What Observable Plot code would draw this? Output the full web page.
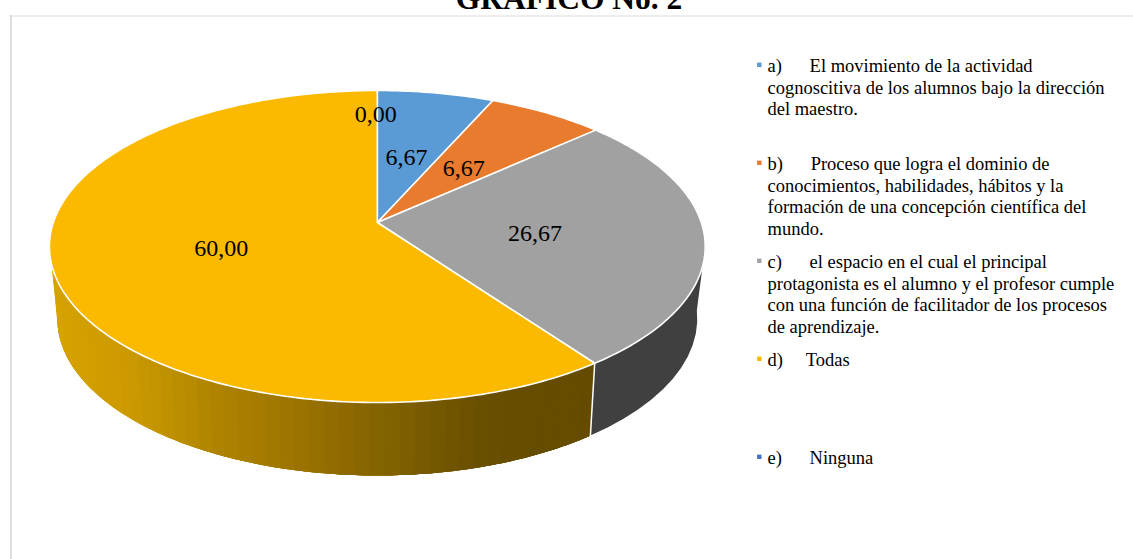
<!DOCTYPE html>
<html><head><meta charset="utf-8">
<script src="https://cdn.jsdelivr.net/npm/d3@7"></script>
<script src="https://cdn.jsdelivr.net/npm/@observablehq/plot@0.6"></script>
<style>html,body{margin:0;padding:0;background:#fff;overflow:hidden}svg{display:block}</style>
</head><body><div id="chart"></div>
<script>
const categories = ["a","b","c","d","e"];
const values = [6.67, 6.67, 26.67, 60.00, 0.00];
const valueLabels = ["6,67","6,67","26,67","60,00","0,00"];
const colors = ["#5B9BD5","#E97B2F","#A1A1A1","#FBBA00","#4472C4"];
const legendTexts = [
  "a)      El movimiento de la actividad\ncognoscitiva de los alumnos bajo la dirección\ndel maestro.",
  "b)      Proceso que logra el dominio de\nconocimientos, habilidades, hábitos y la\nformación de una concepción científica del\nmundo.",
  "c)      el espacio en el cual el principal\nprotagonista es el alumno y el profesor cumple\ncon una función de facilitador de los procesos\nde aprendizaje.",
  "d)     Todas",
  "e)      Ninguna"
];
const title = "GRÁFICO No. 2";

// layout of the perspective disc
const W = 1133, H = 559;
const cx = 376.8, topCy = 246, rx = 328, ry = 156, apex = 24, persp = apex / ry, ax = 324;
const lowRx = 320, lowCy = 318, lowRy = 157;
const D = Math.PI / 180;

// map polar position on the disc (theta from 12 o'clock, clockwise; r 0..1) to the picture
function disc(theta, r = 1) {
  const u = r * Math.sin(theta), v = r * Math.cos(theta), k = 1 + persp * v;
  return {x: cx + ax * u / k, y: topCy - (ry * v + apex) / k};
}
const total = d3.sum(values);
let acc = 0;
const slices = values.map((v, i) => {
  const a0 = acc / total * 2 * Math.PI; acc += v;
  return {i, a0, a1: acc / total * 2 * Math.PI, cat: categories[i], color: colors[i], label: valueLabels[i], value: v};
});

// top faces
const facePts = [];
for (const s of slices) {
  if (s.value === 0) continue;
  facePts.push({...disc(0, 0), cat: s.cat, color: s.color});
  const n = Math.max(2, Math.ceil((s.a1 - s.a0) / (1 * D)));
  for (let j = 0; j <= n; j++) facePts.push({...disc(s.a0 + (s.a1 - s.a0) * j / n), cat: s.cat, color: s.color});
  facePts.push({...disc(0, 0), cat: s.cat, color: s.color});
}

// side wall: near-vertical bands between the rim and the lower ellipse
const topY = x => topCy + ry * Math.sqrt(Math.max(0, 1 - ((x - cx) / rx) ** 2));
const lowPoint = p => ({x: cx - lowRx * Math.cos(p), y: lowCy + lowRy * Math.sin(p)});
const seamTop = disc(slices[2].a1);
const seamLowX = seamTop.x - 4.3;
const seamPhi = Math.acos((cx - seamLowX) / lowRx);
const startPhi = -3 * D, endPhi = 183 * D;
const rimLeft = 51.5, rimRight = 702;
const goldRamp = d3.scaleLinear()
  .domain([55, 130, 215, 300, 370, 400, 470, 500, 600])
  .range(["#d6a300", "#cc9a00", "#b08400", "#9a7200", "#866500", "#7f6000", "#6a5000", "#664d00", "#644b00"]);
const sidePts = [];
// a band runs from phi p0 to phi p1, following both edges; later bands paint over earlier ones
function band(id, color, p0, p1, rimAt) {
  const steps = d3.range(0, 13).map(j => p0 + (p1 - p0) * j / 12);
  const low = steps.map(lowPoint);
  const rim = low.map(l => { const x = rimAt(l.x); return {x, y: topY(x)}; });
  for (const p of [...rim, ...low.reverse(), rim[0]]) sidePts.push({...p, id, color});
}
const lowLeft = lowPoint(startPhi).x, lowRight = lowPoint(endPhi).x;
const rimGold = d3.scaleLinear().domain([lowLeft, seamLowX]).range([rimLeft, seamTop.x]);
const rimGray = d3.scaleLinear().domain([seamLowX, lowRight]).range([seamTop.x, rimRight]);
const nGold = 50;
for (let k = 0; k < nGold; k++) {
  const p0 = startPhi + (seamPhi - startPhi) * k / nGold;
  const p1 = startPhi + (seamPhi - startPhi) * Math.min(1, (k + 4) / nGold);
  const pm = startPhi + (seamPhi - startPhi) * (k + .5) / nGold;
  band("g" + String(k).padStart(3, "0"), goldRamp(lowPoint(pm).x), p0, p1, rimGold);
}
band("zgray", "#404040", seamPhi, endPhi, rimGray);
const seamLine = [{x: seamTop.x, y: topY(seamTop.x)}, lowPoint(seamPhi)];

// value labels: mid-slice at half radius; the empty slice's label sits further out
const valueMarks = slices.map(s => {
  const p = disc((s.a0 + s.a1) / 2, s.value === 0 ? 0.82 : 0.49);
  return {...p, label: s.label};
});

// legend rows
const legendTop = 64.3, legendStep = 98;
const legendRows = legendTexts.map((t, i) => ({t, color: colors[i], y: legendTop + legendStep * i}));

const font = "'Liberation Serif','Times New Roman',serif";
const plot = Plot.plot({
  width: W, height: H, margin: 0,
  x: {domain: [0, W], range: [0, W], axis: null},
  y: {domain: [0, H], range: [0, H], axis: null},
  style: {background: "#fff", fontFamily: font},
  marks: [
    Plot.ruleX([10.5], {y1: 15, y2: H, stroke: "#e0e0e0", strokeWidth: 2}),
    Plot.ruleY([15.5], {x1: 9.5, x2: W, stroke: "#dcdcdc", strokeWidth: 1.2}),
    Plot.line(sidePts, {x: "x", y: "y", z: "id", fill: "color", stroke: "none"}),
    Plot.line(seamLine, {x: "x", y: "y", stroke: "#fff", strokeWidth: 1.5}),
    Plot.line(facePts, {x: "x", y: "y", z: "cat", fill: "color", stroke: "#fff", strokeWidth: 1.6, strokeLinejoin: "round"}),
    Plot.text(valueMarks, {x: "x", y: "y", dx: -1.5, dy: 2.5, text: "label", fontSize: 24, fill: "#000", textAnchor: "middle", lineAnchor: "middle"}),
    Plot.text([title], {x: 568.5, y: 8, text: d => d, fontSize: 31.5, fontWeight: "bold", fill: "#000", textAnchor: "middle", lineAnchor: "bottom"}),
    Plot.dot(legendRows, {x: 758.8, y: "y", symbol: "square", r: 2.5, fill: "color", stroke: "none"}),
    Plot.text(legendRows, {x: 767, y: d => d.y - 8.3, text: "t", fontSize: 18.5, fill: "#000", textAnchor: "start", lineAnchor: "top", lineHeight: 1.172})
  ]
});
document.getElementById("chart").append(plot);
</script></body></html>
